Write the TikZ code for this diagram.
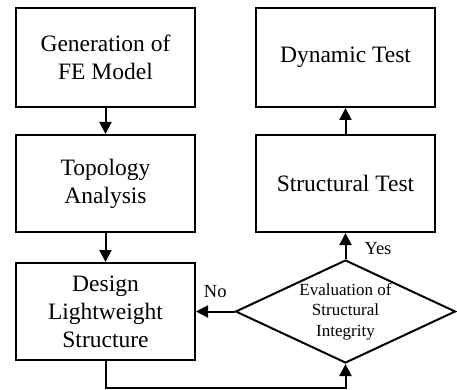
\documentclass[tikz,border=0pt]{standalone}
\usepackage{fontspec}
\setmainfont{Liberation Serif}
\usetikzlibrary{shapes.geometric,arrows.meta}

\begin{document}
\begin{tikzpicture}[x=1pt,y=-1pt,
    box/.style={draw,line width=2pt,minimum width=179pt,minimum height=97pt,inner sep=0pt,align=center,font=\fontsize{23.5}{28}\selectfont},
    check/.style={draw,shape=diamond,shape aspect=2.15,line width=2pt,minimum width=220pt,minimum height=103pt,inner sep=0pt,align=center,font=\fontsize{17}{20.5}\selectfont},
    arr/.style={line width=2pt,-{Triangle[length=12pt,width=12pt]}},
    lbl/.style={font=\fontsize{18.5}{22}\selectfont,inner sep=0pt}]
    \useasboundingbox (0,0) rectangle (457,390);
    \node[box,minimum height=99pt] (gen) at (105.5,57.5) {Generation of\\FE Model};
    \node[box] (topo) at (105.5,183.5) {Topology\\Analysis};
    \node[box] (design) at (105.5,311.5) {Design\\Lightweight\\Structure};
    \node[box] (struct) at (345.5,183.5) {Structural Test};
    \node[box,minimum height=99pt] (dyn) at (345.5,57.5) {Dynamic Test};
    \node[check] (eval) at (345.5,311.5) {Evaluation of\\Structural\\Integrity};
    \draw[arr] (gen) -- (topo);
    \draw[arr] (topo) -- (design);
    \draw[arr] (design.south) -- ++(0,27) -| (eval.south);
    \draw[arr] (eval) -- node[lbl,midway,above=13pt] {No} (design);
    \draw[arr] (eval) -- node[lbl,midway,anchor=west,xshift=18pt,yshift=-3pt] {Yes} (struct);
    \draw[arr] (struct) -- (dyn);
\end{tikzpicture}
\end{document}
